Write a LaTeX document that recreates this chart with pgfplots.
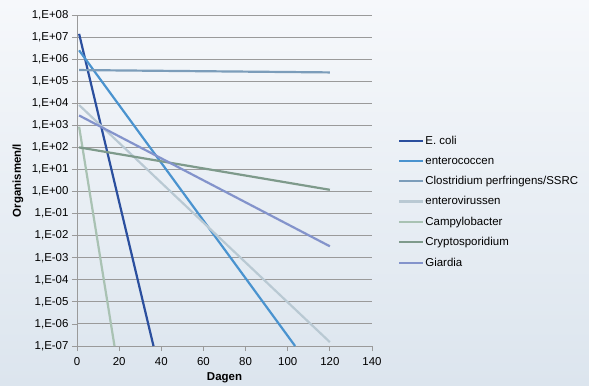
\documentclass[border=0pt]{standalone}
\usepackage{fontspec}
\setmainfont{Liberation Sans}
\usepackage{pgfplots}
\pgfplotsset{compat=1.18}
\definecolor{cEcoli}{HTML}{2B4F9E}
\definecolor{cEntero}{HTML}{4A93CF}
\definecolor{cClos}{HTML}{7C9DBA}
\definecolor{cVirus}{HTML}{B9C9D3}
\definecolor{cCampy}{HTML}{A9C2B3}
\definecolor{cCrypto}{HTML}{7E9A8B}
\definecolor{cGiardia}{HTML}{8393CB}
\definecolor{gridc}{HTML}{9A9A9A}
\begin{document}
\begin{tikzpicture}
\shade[top color={rgb,255:red,246;green,248;blue,251}, bottom color={rgb,255:red,220;green,229;blue,238}] (0bp,0bp) rectangle (589bp,385bp);
\begin{axis}[
  at={(77bp,39bp)}, anchor=south west,
  scale only axis, width=295bp, height=331bp,
  ymode=log, xmin=0, xmax=140, ymin=1e-7, ymax=1e8,
  xtick={0,20,...,140},
  ytick={1e-7,1e-6,1e-5,1e-4,1e-3,1e-2,1e-1,1,1e1,1e2,1e3,1e4,1e5,1e6,1e7,1e8},
  yticklabels={{1,E-07},{1,E-06},{1,E-05},{1,E-04},{1,E-03},{1,E-02},{1,E-01},{1,E+00},{1,E+01},{1,E+02},{1,E+03},{1,E+04},{1,E+05},{1,E+06},{1,E+07},{1,E+08}},
  yminorticks=false, minor y tick num=0,
  /pgf/number format/assume math mode=true,
  axis lines=left, axis line style={-, draw=gridc, line width=0.8bp},
  tick align=outside, major tick length=5bp,
  tick style={draw=gridc, line width=0.8bp},
  ymajorgrids, major grid style={draw=gridc, line width=0.9bp},
  ticklabel style={font=\fontsize{11.5}{13}\selectfont},
  xticklabel style={yshift=-3bp},
  xlabel={Dagen}, ylabel={Organismen/l},
  label style={font=\fontsize{11.5}{13}\selectfont\bfseries},
  xlabel style={at={(axis description cs:0.5,0)}, anchor=center, yshift=-32bp},
  ylabel style={at={(axis description cs:-0.2,0.5)}, anchor=center, rotate=0},
  clip=true,
  legend cell align=left,
  legend style={at={(1.078,0.643)}, anchor=north west, draw=none, fill=none,
    font=\fontsize{11.5}{13}\selectfont, row sep=8.6bp,
    nodes={inner sep=1bp}},
  legend image code/.code={\draw[#1, line width=2.2bp] (0bp,0bp) -- (24bp,0bp);},
  every axis plot/.append style={line width=2.2bp, no markers},
]
\addplot[cEcoli] coordinates {(1,1.4e7) (36.3,1e-7)};
\addlegendentry{E. coli}
\addplot[cEntero] coordinates {(1,2.5e6) (103.5,1e-7)};
\addlegendentry{enterococcen}
\addplot[cClos] coordinates {(1,3.2e5) (120,2.5e5)};
\addlegendentry{Clostridium perfringens/SSRC}
\addplot[cVirus] coordinates {(1,8.3e3) (120,1.5e-7)};
\addlegendentry{enterovirussen}
\addplot[cCampy] coordinates {(1,870) (17.8,1e-7)};
\addlegendentry{Campylobacter}
\addplot[cCrypto] coordinates {(1,100) (120,1.2)};
\addlegendentry{Cryptosporidium}
\addplot[cGiardia] coordinates {(1,2.8e3) (120,3.3e-3)};
\addlegendentry{Giardia}
\end{axis}
\end{tikzpicture}
\end{document}
